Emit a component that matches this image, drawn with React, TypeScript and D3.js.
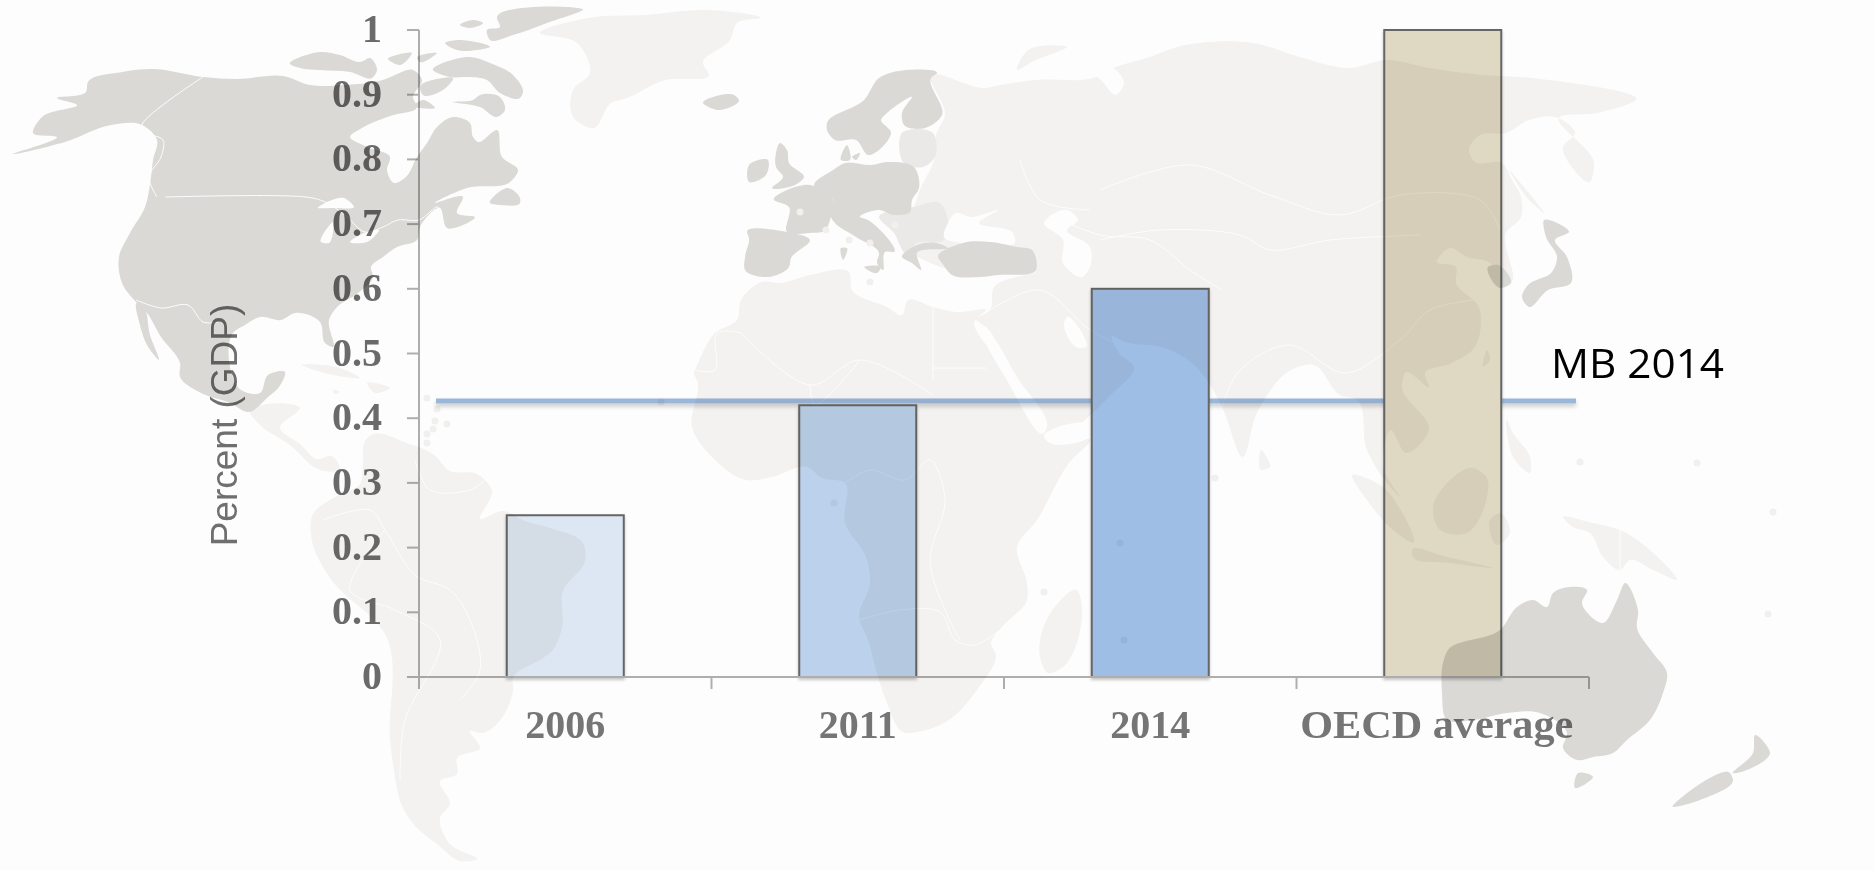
import React from 'react';
import * as d3 from 'd3';

// ---------- chart data ----------
const categories = ['2006', '2011', '2014', 'OECD average'];
const values = [0.25, 0.42, 0.6, 1];
const barColors = ['#dde7f3', '#bcd2ec', '#9fbee6', '#dfd8c3'];
const yTicks = [0, 0.1, 0.2, 0.3, 0.4, 0.5, 0.6, 0.7, 0.8, 0.9, 1];
const yTitle = 'Percent (GDP)';
const mbLevel = 0.4266;
const mbLabel = 'MB 2014';

// ---------- decorative world map backdrop (outlines in picture pixels) ----------
type P = [number, number];
const mapDark: P[][] = [
  // North America
  [[13,154],[57,137],[33,133],[42,117],[77,105],[57,98],[86,92],[88,82],[122,72],[153,69],[203,77],[237,79],[283,76],[310,85],[344,85],[383,80],[393,76],[413,70],[422,80],[413,97],[417,107],[390,116],[362,128],[350,137],[367,147],[390,157],[387,170],[394,183],[406,177],[417,157],[427,143],[437,127],[453,117],[470,123],[473,137],[478,142],[497,130],[502,157],[518,170],[510,182],[467,188],[435,203],[463,197],[457,213],[475,217],[447,228],[440,208],[420,227],[417,240],[397,247],[383,257],[371,267],[373,277],[358,293],[337,307],[329,320],[333,347],[325,343],[320,322],[295,313],[281,320],[260,317],[245,325],[233,333],[230,367],[241,390],[260,393],[268,375],[285,372],[279,387],[268,397],[249,412],[230,403],[199,392],[180,377],[180,363],[161,337],[147,313],[136,302],[122,283],[119,257],[130,233],[145,207],[151,177],[153,160],[157,140],[142,125],[111,125],[65,142]],
  [[137,303],[143,306],[150,335],[159,360],[147,345],[140,325]],
  [[290,64],[320,52],[340,55],[360,62],[370,58],[377,70],[372,78],[350,72],[320,70],[300,68]],
  [[433,70],[470,57],[490,63],[513,75],[523,92],[520,98],[500,93],[487,80],[467,77],[450,77]],
  [[583,10],[497,18],[500,27],[487,30],[490,40],[513,35],[547,23]],
  [[445,43],[457,40],[490,47],[477,50],[457,50]],
  [[460,25],[473,20],[483,23],[470,28]],
  [[453,102],[473,100],[480,95],[500,97],[505,110],[497,117],[480,107]],
  [[420,87],[443,78],[453,78],[443,90],[423,95]],
  [[413,107],[423,100],[435,108],[420,108]],
  [[388,59],[412,53],[400,65]],
  [[417,58],[437,53],[420,62]],
  [[490,203],[508,188],[520,198],[520,203],[500,205]],
  // Iceland, Scandinavia, islands of Europe
  [[703,103],[734,95],[739,100],[718,110]],
  [[827,123],[864,100],[879,78],[906,70],[937,73],[931,78],[942,115],[925,128],[904,125],[902,113],[912,97],[887,113],[881,120],[891,132],[868,155],[856,140],[835,140],[827,130]],
  [[780,143],[787,150],[789,163],[804,177],[795,185],[772,188],[783,177],[776,167],[776,153]],
  [[749,165],[768,160],[766,175],[749,182]],
  [[841,160],[847,145],[850,160]],
  [[852,157],[860,153],[856,160]],
  // Continental Europe
  [[774,200],[810,185],[833,200],[829,223],[826,230],[810,233],[787,232],[789,207]],
  [[814,185],[833,170],[845,163],[871,165],[887,162],[914,167],[919,188],[912,200],[910,212],[894,215],[879,210],[860,217],[868,220],[894,252],[885,252],[883,270],[877,263],[879,253],[856,237],[835,223],[831,217],[833,200]],
  [[864,267],[881,267],[877,273]],
  [[841,248],[847,248],[843,260]],
  [[747,232],[787,232],[810,240],[791,258],[789,267],[768,277],[745,270],[745,257],[749,238]],
  [[902,257],[917,245],[936,243],[948,248],[917,253],[921,270],[912,263]],
  [[938,257],[963,243],[990,242],[1017,247],[1032,250],[1036,270],[998,275],[979,277],[952,275],[942,263]],
  // Japan, South Korea
  [[1544,220],[1569,232],[1555,240],[1567,257],[1571,283],[1548,290],[1529,307],[1522,297],[1528,285],[1552,272],[1557,257],[1546,237]],
  [[1488,267],[1498,265],[1511,283],[1500,288]],
  // Australia and New Zealand
  [[1443,663],[1448,650],[1500,630],[1517,607],[1533,600],[1547,607],[1553,593],[1570,587],[1587,590],[1582,603],[1603,623],[1617,600],[1625,583],[1638,610],[1637,628],[1653,653],[1667,673],[1663,693],[1650,720],[1627,740],[1613,753],[1593,757],[1577,760],[1563,748],[1567,733],[1540,713],[1507,713],[1473,720],[1447,720],[1442,693]],
  [[1578,773],[1593,777],[1587,783],[1575,788]],
  [[1755,735],[1770,753],[1747,770],[1733,773],[1753,753]],
  [[1673,807],[1730,773],[1733,780],[1700,800]],
];
const mapMedium: P[][] = [
  [[879,217],[914,207],[940,203],[948,223],[944,240],[917,243],[906,253],[894,233]],
  [[902,133],[933,133],[935,157],[923,167],[904,163]],
];
const mapLight: P[][] = [
  // Eurasia
  [[930,75],[985,88],[1000,85],[1036,80],[1093,78],[1116,67],[1150,57],[1177,47],[1253,43],[1303,58],[1349,68],[1387,60],[1429,68],[1483,75],[1532,78],[1636,100],[1597,113],[1559,118],[1594,163],[1590,182],[1563,147],[1575,133],[1555,117],[1529,120],[1506,133],[1480,135],[1469,150],[1475,162],[1502,163],[1512,180],[1521,197],[1521,217],[1506,233],[1511,283],[1500,287],[1490,263],[1467,257],[1450,248],[1437,262],[1456,267],[1456,283],[1479,307],[1481,320],[1475,347],[1452,363],[1425,373],[1429,387],[1406,372],[1402,387],[1429,430],[1406,453],[1391,430],[1383,467],[1400,497],[1387,483],[1367,450],[1357,400],[1340,395],[1314,365],[1291,370],[1257,413],[1243,457],[1222,407],[1207,380],[1192,363],[1165,348],[1125,342],[1112,336],[1119,353],[1134,367],[1113,393],[1047,440],[1044,427],[1017,390],[986,327],[975,320],[990,310],[994,287],[1036,272],[950,270],[900,240],[914,207],[920,190],[935,157],[936,135],[945,115]],
  [[1017,70],[1028,50],[1067,47],[1032,62]],
  [[1509,170],[1544,213],[1529,200]],
  // Greenland
  [[540,33],[588,18],[646,15],[711,10],[760,18],[737,23],[730,40],[703,63],[709,75],[665,80],[627,98],[611,103],[594,128],[573,117],[573,90],[590,73],[577,43]],
  // Central America and the Caribbean
  [[250,411],[267,404],[300,408],[280,428],[300,444],[317,459],[332,456],[340,470],[320,470],[290,445],[260,425]],
  [[302,365],[337,367],[360,378],[333,375]],
  [[367,383],[390,388],[375,393]],
  [[333,390],[340,392],[335,394]],
  // South America
  [[365,441],[373,434],[407,443],[433,454],[450,471],[477,474],[492,491],[480,519],[503,511],[525,521],[550,528],[583,543],[585,561],[563,591],[562,628],[552,651],[543,658],[513,678],[513,691],[497,724],[483,733],[470,731],[480,748],[457,758],[457,774],[440,781],[450,804],[440,818],[450,844],[477,859],[460,861],[437,844],[417,828],[403,808],[393,764],[390,738],[387,638],[330,578],[312,541],[313,514],[337,496],[360,484],[363,464]],
  // Africa
  [[762,282],[780,283],[810,275],[849,272],[852,290],[887,307],[902,315],[908,300],[933,307],[956,312],[986,310],[975,320],[1009,370],[1025,390],[1047,433],[1051,443],[1090,440],[1069,463],[1037,520],[1017,547],[1027,583],[1027,600],[1002,627],[991,643],[996,655],[979,687],[949,720],[926,730],[903,732],[887,703],[878,677],[868,640],[859,617],[870,583],[866,557],[845,523],[845,483],[822,478],[807,467],[772,477],[746,480],[715,460],[692,427],[698,383],[694,372],[695,370],[715,333],[737,320],[741,300]],
  [[1077,590],[1082,607],[1063,667],[1048,673],[1040,657],[1048,617]],
  // Islands of Asia
  [[1487,350],[1490,360],[1483,367]],
  [[1261,450],[1270,467],[1261,470]],
  [[1507,420],[1513,433],[1530,457],[1530,473],[1513,457]],
  [[1433,507],[1473,468],[1487,478],[1487,497],[1467,533],[1440,530]],
  [[1352,475],[1383,487],[1413,543],[1393,530],[1367,500]],
  [[1412,550],[1447,557],[1493,568],[1450,563],[1413,557]],
  [[1490,520],[1500,513],[1510,533],[1497,545]],
  [[1563,517],[1593,523],[1620,530],[1650,550],[1677,580],[1653,570],[1630,560],[1620,570],[1603,557],[1590,533],[1573,527]],
];
const mapWater: P[][] = [
  [[318,208],[344,198],[354,207],[333,208]],
  [[321,242],[333,222],[329,243]],
  [[350,242],[364,233],[379,230],[367,242]],
  [[956,213],[971,217],[998,210],[979,223],[1013,233],[1015,243],[990,242],[963,243],[944,237],[948,223]],
  [[1044,223],[1067,210],[1078,220],[1067,230],[1090,247],[1090,267],[1082,277],[1063,263],[1063,240]],
  [[1067,317],[1086,347],[1078,348],[1064,323]],
  [[975,320],[990,333],[1017,377],[1047,427],[1044,433],[1005,377],[979,330]],
  [[1044,437],[1090,425],[1090,435],[1048,442]],
  [[1086,67],[1097,60],[1124,83],[1116,95],[1101,80]],
];
const mapBorders: P[][] = [
  [[165,197],[306,197],[325,202],[345,215],[365,232],[383,227],[398,220],[419,220],[438,207],[440,220]],
  [[203,77],[142,125],[147,133],[163,140],[161,157],[149,177],[157,197]],
  [[136,300],[161,308],[188,305],[203,322],[218,322]],
  [[933,307],[933,380]],[[933,368],[986,368]],[[741,333],[810,385],[860,360],[933,395]],
  [[695,370],[715,370],[717,333],[741,333]],[[810,385],[815,405],[860,360]],
  [[845,483],[870,470],[905,480],[930,460],[945,500],[930,560],[945,610],[960,640]],
  [[860,620],[900,610],[940,612],[955,640],[975,645],[1000,630]],
  [[1222,407],[1240,370],[1290,345],[1345,373],[1400,340],[1430,310],[1475,300]],
  [[1100,190],[1190,165],[1270,195],[1340,215],[1400,195],[1480,200],[1500,230]],
  [[1100,240],[1160,230],[1240,235],[1270,250],[1330,240],[1420,235]],
  [[1050,215],[1100,235],[1150,240],[1190,270],[1222,290]],
  [[990,310],[1040,290],[1090,330],[1120,345]],
  [[1020,160],[1040,200],[1090,210]],
  [[1620,530],[1620,570]],
  [[323,520],[370,510],[385,530],[415,575],[450,590],[470,620],[480,670],[460,700]],
  [[385,530],[350,590],[395,610],[440,640],[405,720],[400,780]],
  [[415,460],[430,490],[470,490],[485,480]],
];
const mapDots: P[] = [[1580,462],[1697,463],[1773,512],[1768,614],[1215,478],[661,402],[834,503],[1120,543],[1124,640],[1044,592],[427,398],[437,409],[435,421],[447,424],[433,429],[427,434],[427,443],[800,212],[849,240],[895,225],[826,230],[870,243],[870,282]];

// ---------- layout ----------
const width = 1874;
const height = 871;
const plotLeft = 419;
const plotRight = 1589;
const plotTop = 30;
const plotBottom = 677;

const xScale = d3.scaleBand<string>().domain(categories).range([plotLeft, plotRight]).paddingInner(0.6).paddingOuter(0.3);
const yScale = d3.scaleLinear().domain([0, 1]).range([plotBottom, plotTop]);
const step = xScale.step();
const xTickPositions = d3.range(categories.length + 1).map((i) => plotLeft + i * step);

const closed = d3.line<P>().curve(d3.curveCatmullRomClosed.alpha(0.8));
const open = d3.line<P>().curve(d3.curveCatmullRom.alpha(0.5));
const serif = '"Liberation Serif", serif';

export default function App() {
  const axisColor = '#aeaeae';
  return (
    <svg width={width} height={height} style={{ position: 'absolute', left: 0, top: 0, background: '#fdfdfd' }}>
      <defs>
        <filter id="shadow" x="-5%" y="-5%" width="110%" height="110%">
          <feDropShadow dx="0" dy="2" stdDeviation="1.5" floodColor="#000" floodOpacity="0.22" />
        </filter>
        <filter id="lineShadow" x="-1%" y="-300%" width="102%" height="800%" filterUnits="objectBoundingBox">
          <feDropShadow dx="0" dy="3" stdDeviation="2" floodColor="#000" floodOpacity="0.2" />
        </filter>
      </defs>

      {/* MB 2014 line, behind the bars */}
      <rect x={plotLeft + 17} width={plotRight - plotLeft - 30} y={yScale(mbLevel) - 2.5} height={5} fill="#9ab7da" filter="url(#lineShadow)" />

      {categories.map((c, i) => (
        <rect key={c} x={xScale(c)} width={xScale.bandwidth()} y={yScale(values[i])} height={plotBottom - yScale(values[i])}
          fill={barColors[i]} stroke="#666" strokeWidth={2} filter="url(#shadow)" />
      ))}

      {/* axes */}
      <line x1={plotLeft} x2={plotLeft} y1={plotTop} y2={plotBottom + 12} stroke={axisColor} strokeWidth={2} />
      <line x1={plotLeft - 12} x2={plotRight} y1={plotBottom} y2={plotBottom} stroke={axisColor} strokeWidth={2} />
      {yTicks.map((t) => (
        <g key={t}>
          <line x1={plotLeft - 12} x2={plotLeft} y1={yScale(t)} y2={yScale(t)} stroke={axisColor} strokeWidth={2} />
          <text x={plotLeft - 37} y={yScale(t) + 12} textAnchor="end" fontFamily={serif} fontWeight="bold" fontSize={40} fill="#6a6a6a">{String(t)}</text>
        </g>
      ))}
      {xTickPositions.map((x) => (
        <line key={x} x1={x} x2={x} y1={plotBottom} y2={plotBottom + 12} stroke={axisColor} strokeWidth={2} />
      ))}
      {categories.map((c, i) => (
        <text key={c} x={xScale(c)! + xScale.bandwidth() / 2 - (i === 3 ? 6 : 0)} y={plotBottom + 61} textAnchor="middle"
          fontFamily={serif} fontWeight="bold" fontSize={40} fill="#757575"
          {...(i === 3 ? { textLength: 273, lengthAdjust: 'spacingAndGlyphs' } : {})}>{c}</text>
      ))}
      <text transform="translate(237,425) rotate(-90)" textAnchor="middle" fontFamily='"Liberation Sans", sans-serif' fontSize={37} fill="#6f6f6f">{yTitle}</text>
      <text x={1551} y={378} fontFamily='"Open Sans", sans-serif' fontSize={41} fill="#000" textLength={173} lengthAdjust="spacingAndGlyphs">{mbLabel}</text>

      {/* world map, laid over the chart like a multiplied picture */}
      <g style={{ mixBlendMode: 'multiply' }}>
        {mapLight.map((p, i) => <path key={i} d={closed(p)!} fill="#f5f4f2" />)}
        {mapMedium.map((p, i) => <path key={i} d={closed(p)!} fill="#ecebe9" />)}
        {mapWater.map((p, i) => <path key={i} d={closed(p)!} fill="#fff" />)}
        {mapDark.map((p, i) => <path key={i} d={closed(p)!} fill="#dcdbd8" />)}
        {mapWater.slice(0, 3).map((p, i) => <path key={i} d={closed(p)!} fill="#fff" />)}
        {mapBorders.map((p, i) => <path key={i} d={open(p)!} fill="none" stroke="#fff" strokeWidth={1} />)}
        {mapDots.map(([x, y], i) => <circle key={i} cx={x} cy={y} r={3.5} fill="#f3f2f0" />)}
      </g>
    </svg>
  );
}
